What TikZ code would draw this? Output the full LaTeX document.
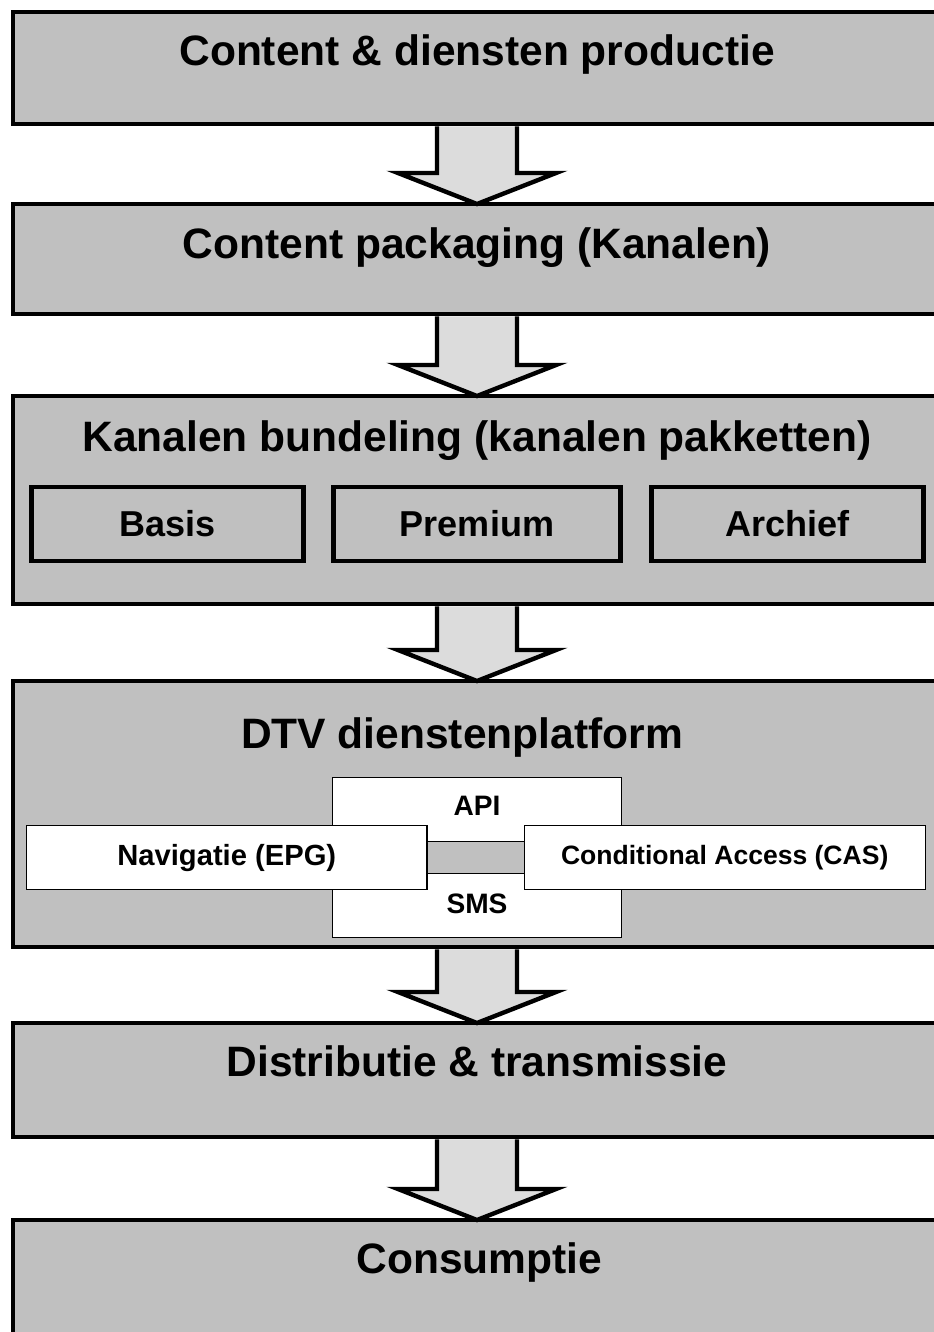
\documentclass[tikz,border=0pt]{standalone}
\usepackage{fontspec}
\setmainfont{Liberation Sans}
\usepackage{tikz}
\usetikzlibrary{positioning}
\usetikzlibrary{calc}
\usepackage{xcolor}
\definecolor{stagegrey}{HTML}{C0C0C0}
\definecolor{flowgrey}{HTML}{DCDCDC}

% fat down arrow from the bottom of one stage to the top of the next
\newcommand{\flowarrow}[2]{%
  \filldraw[flow] ($(#1.south)+(-0.8cm,-1.4pt)$) -- ($(#2.north)+(-0.8,0.62)$)
    -- ++(-0.78,0) -- (#2.north) -- ++(1.58,0.62) -- ++(-0.78,0)
    -- ($(#1.south)+(0.8cm,-1.4pt)$);}

\begin{document}
\begin{tikzpicture}[
  font=\bfseries,
  stage/.style={draw, line width=2.8pt, fill=stagegrey, minimum width=18.56cm, inner sep=0pt, outer sep=0pt},
  title/.style={anchor=base, font=\fontsize{24.2}{29}\selectfont\bfseries},
  bundle/.style={draw, line width=2.8pt, fill=stagegrey, minimum height=1.48cm, inner sep=0pt, outer sep=0pt, font=\fontsize{20.5}{24}\selectfont\bfseries},
  module/.style={draw, line width=0.8pt, fill=white, inner sep=0pt, font=\fontsize{16}{19}\selectfont\bfseries},
  caption/.style={anchor=base, font=\fontsize{16}{19}\selectfont\bfseries},
  flow/.style={line width=2.5pt, fill=flowgrey},
  link/.style={line width=0.8pt, double=stagegrey, double distance=0.61cm}
]
\useasboundingbox (0,0) rectangle (18.68,-26.64);

\node[stage, minimum height=2.24cm] (prod) at (9.54,-1.36) {};
\node[stage, minimum height=2.20cm, below=1.60cm of prod] (pack) {};
\node[stage, minimum height=4.16cm, below=1.64cm of pack] (bund) {};
\node[stage, minimum height=5.32cm, below=1.54cm of bund] (plat) {};
\node[stage, minimum height=2.28cm, below=1.52cm of plat] (dist) {};
\node[stage, minimum height=2.30cm, below=1.66cm of dist] (cons) {};

\node[title] (prodtitle) at ($(prod.north)+(0,-1.06)$) {Content \& diensten productie};
\node[title] (packtitle) at ($(pack.north)+(0,-1.08)$) {Content packaging (Kanalen)};
\node[title] (bundtitle) at ($(bund.north)+(0,-1.10)$) {Kanalen bundeling (kanalen pakketten)};
\node[title] (plattitle) at ($(plat.north)+(-0.3,-1.34)$) {DTV dienstenplatform};
\node[title] (disttitle) at ($(dist.north)+(0,-1.06)$) {Distributie \& transmissie};
\node[title] (constitle) at ($(cons.north)+(0.05,-1.06)$) {Consumptie};

\node[bundle, minimum width=5.74cm, below=1.82cm of bund.north] (premium) {Premium};
\node[bundle, minimum width=5.44cm, left=0.6cm of premium] (basis) {Basis};
\node[bundle, minimum width=5.44cm, right=0.62cm of premium] (archief) {Archief};

\node[module, minimum width=5.78cm, minimum height=3.2cm, below=1.92cm of plat.north] (core) {};
\node[caption] (api) at ($(core.north)+(0,-0.76)$) {API};
\node[caption] (sms) at ($(core.south)+(0,0.5)$) {SMS};
\node[module, minimum width=8cm, minimum height=1.28cm, anchor=east, font=\fontsize{16.6}{19}\selectfont\bfseries] (nav) at ($(core.center)+(-0.99,0)$) {Navigatie (EPG)};
\node[module, minimum width=8.02cm, minimum height=1.28cm, anchor=west, font=\fontsize{15.1}{18}\selectfont\bfseries] (cas) at ($(core.center)+(0.93,0)$) {Conditional Access (CAS)};
\draw[link] (nav) -- (cas);

\flowarrow{prod}{pack}
\flowarrow{pack}{bund}
\flowarrow{bund}{plat}
\flowarrow{plat}{dist}
\flowarrow{dist}{cons}

\end{tikzpicture}
\end{document}
